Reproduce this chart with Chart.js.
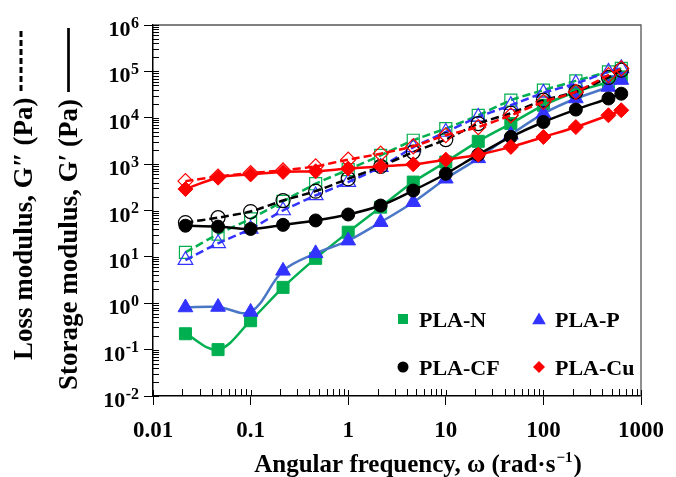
<!DOCTYPE html>
<html>
<head>
<meta charset="utf-8">
<script src="https://cdn.jsdelivr.net/npm/chart.js@4.4.1/dist/chart.umd.min.js"></script>
<style>
  html, body { margin: 0; padding: 0; background: #fff; }
  canvas { display: block; }
</style>
</head>
<body>
<canvas id="chart" width="676" height="477"></canvas>
<script>
// angular frequency sweep (rad/s)
const omega = [0.0215, 0.0464, 0.1, 0.215, 0.464, 1, 2.15, 4.64, 10, 21.5, 46.4, 100, 215, 464, 628];

// storage modulus G' (Pa), solid lines / filled markers
const plaN_storage  = [0.22, 0.1, 0.42, 2.2, 9.3, 34, 118, 410, 1110, 3100, 7500, 18600, 36000, 59000, 76000];
const plaP_storage  = [0.81, 0.83, 0.65, 5.0, 11.9, 22.4, 56, 151, 484, 1330, 4300, 12300, 26000, 46000, 65000];
const plaCF_storage = [47, 45, 40, 49, 61, 82, 128, 270, 620, 1600, 3850, 8100, 15000, 26000, 33000];
const plaCu_storage = [290, 510, 600, 680, 700, 800, 893, 990, 1250, 1600, 2350, 3850, 6300, 11300, 14500];

// loss modulus G'' (Pa), dashed lines / open markers
const plaN_loss  = [12.5, 31, 66, 158, 378, 760, 1550, 3270, 5840, 11300, 23900, 39400, 62500, 97700, 116000];
const plaP_loss  = [8.5, 19.6, 40, 100, 211, 409, 863, 2300, 4930, 10400, 18600, 34400, 54800, 97700, 116000];
const plaCF_loss = [55, 70, 95, 164, 261, 484, 893, 1820, 3380, 7500, 12500, 23900, 36100, 74000, 106000];
const plaCu_loss = [430, 540, 640, 733, 893, 1250, 1680, 2420, 4190, 6300, 11300, 22000, 36100, 83000, 116000];

const legendLabels = ['PLA-N', 'PLA-P', 'PLA-CF', 'PLA-Cu'];

const xMajorTicks = [0.01, 0.1, 1, 10, 100, 1000];
const xTickLabels = ['0.01', '0.1', '1', '10', '100', '1000'];
const yMajorTicks = [1e-2, 1e-1, 1, 10, 100, 1e3, 1e4, 1e5, 1e6];
const yTickExponents = ['-2', '-1', '0', '1', '2', '3', '4', '5', '6'];
const minorSteps = [2, 3, 4, 5, 6, 7, 8, 9];

const SERIF = "'Liberation Serif', 'Times New Roman', serif";
const GREEN = '#00b050';
const BLUE = '#3333ff';
const STEEL = '#4a76c6';
const RED = '#ff0000';
const BLACK = '#000000';

function pts(values) {
  return omega.map((x, i) => ({ x, y: values[i] }));
}

function storage(label, values, line, marker, style, radius, order) {
  return {
    label, data: pts(values), order,
    borderColor: line, borderWidth: 2.5, tension: 0.35,
    pointStyle: style, pointRadius: radius, pointHoverRadius: radius,
    pointBackgroundColor: marker, pointBorderColor: marker, pointBorderWidth: 1,
  };
}

function loss(label, values, color, style, radius, order) {
  return {
    label, data: pts(values), order,
    borderColor: color, borderWidth: 2.5, borderDash: [8, 4], tension: 0.2,
    pointStyle: style, pointRadius: radius, pointHoverRadius: radius,
    pointBackgroundColor: 'rgba(255,255,255,0)', pointBorderColor: color, pointBorderWidth: 1.2,
  };
}

const datasets = [
  storage('PLA-N G\'', plaN_storage, GREEN, GREEN, 'rect', 8.5, 8),
  loss('PLA-N G"', plaN_loss, GREEN, 'rect', 8.5, 7),
  storage('PLA-P G\'', plaP_storage, STEEL, BLUE, 'triangle', 8.5, 6),
  loss('PLA-P G"', plaP_loss, BLUE, 'triangle', 8.5, 5),
  storage('PLA-CF G\'', plaCF_storage, BLACK, BLACK, 'circle', 6.5, 4),
  loss('PLA-CF G"', plaCF_loss, BLACK, 'circle', 7, 3),
  storage('PLA-Cu G\'', plaCu_storage, RED, RED, 'rectRot', 7.5, 2),
  loss('PLA-Cu G"', plaCu_loss, RED, 'rectRot', 7.5, 1),
];

// legend markers: [style, colour]
const legendMarks = [['rect', GREEN], ['triangle', BLUE], ['circle', BLACK], ['rectRot', RED]];

function marker(ctx, style, cx, cy, r) {
  ctx.beginPath();
  if (style === 'rect') {
    ctx.rect(cx - r, cy - r, 2 * r, 2 * r);
  } else if (style === 'triangle') {
    ctx.moveTo(cx, cy - r);
    ctx.lineTo(cx + r * 1.05, cy + r * 0.8);
    ctx.lineTo(cx - r * 1.05, cy + r * 0.8);
    ctx.closePath();
  } else if (style === 'circle') {
    ctx.arc(cx, cy, r, 0, Math.PI * 2);
  } else {
    ctx.moveTo(cx, cy - r);
    ctx.lineTo(cx + r, cy);
    ctx.lineTo(cx, cy + r);
    ctx.lineTo(cx - r, cy);
    ctx.closePath();
  }
  ctx.fill();
}

const decor = {
  id: 'decor',
  beforeDatasetsDraw(chart) {
    const { ctx, chartArea: a, scales: { x, y } } = chart;
    ctx.save();
    // top and right frame
    ctx.strokeStyle = '#555';
    ctx.lineWidth = 1.3;
    ctx.beginPath();
    ctx.moveTo(a.left, a.top);
    ctx.lineTo(a.right, a.top);
    ctx.lineTo(a.right, a.bottom);
    ctx.stroke();
    // inner ticks
    ctx.strokeStyle = '#000';
    ctx.lineWidth = 1;
    ctx.beginPath();
    xMajorTicks.slice(0, -1).forEach((m) => minorSteps.forEach((k) => {
      const px = Math.round(x.getPixelForValue(k * m)) + 0.5;
      ctx.moveTo(px, a.bottom);
      ctx.lineTo(px, a.bottom - 7);
    }));
    xMajorTicks.forEach((m) => {
      const px = Math.round(x.getPixelForValue(m)) + 0.5;
      ctx.moveTo(px, a.bottom);
      ctx.lineTo(px, a.bottom - 6);
    });
    yMajorTicks.slice(0, -1).forEach((m) => minorSteps.forEach((k) => {
      const py = Math.round(y.getPixelForValue(k * m)) + 0.5;
      ctx.moveTo(a.left, py);
      ctx.lineTo(a.left + 6, py);
    }));
    yMajorTicks.forEach((m) => {
      const py = Math.round(y.getPixelForValue(m)) + 0.5;
      ctx.moveTo(a.left, py);
      ctx.lineTo(a.left + 6, py);
    });
    ctx.stroke();
    ctx.restore();
  },
  afterDraw(chart) {
    const { ctx, chartArea: a, scales: { y } } = chart;
    ctx.save();
    ctx.fillStyle = '#000';
    ctx.textBaseline = 'alphabetic';

    // y tick labels: 10 with raised exponent
    const baseFont = `bold 22px ${SERIF}`;
    const expFont = `bold 16px ${SERIF}`;
    yMajorTicks.forEach((v, i) => {
      const py = y.getPixelForValue(v);
      const right = a.left - 14;
      ctx.font = expFont;
      const ew = ctx.measureText(yTickExponents[i]).width;
      ctx.textAlign = 'right';
      ctx.fillText(yTickExponents[i], right, py + 2.5);
      ctx.font = baseFont;
      ctx.fillText('10', right - ew - 0.5, py + 11);
    });

    // x title with superscript
    const t1 = 'Angular frequency, \u03c9 (rad\u00b7s';
    const t2 = '\u22121';
    const t3 = ')';
    ctx.font = `bold 25px ${SERIF}`;
    const w1 = ctx.measureText(t1).width;
    const w3 = ctx.measureText(t3).width;
    ctx.font = `bold 15px ${SERIF}`;
    const w2 = ctx.measureText(t2).width;
    const tx = 417 - (w1 + w2 + w3) / 2;
    ctx.textAlign = 'left';
    ctx.font = `bold 25px ${SERIF}`;
    ctx.fillText(t1, tx, 472);
    ctx.font = `bold 15px ${SERIF}`;
    ctx.fillText(t2, tx + w1 + 1, 462);
    ctx.font = `bold 25px ${SERIF}`;
    ctx.fillText(t3, tx + w1 + w2 + 2, 472);

    // y titles, rotated
    ctx.font = `bold 27px ${SERIF}`;
    ctx.save();
    ctx.translate(32, 360);
    ctx.rotate(-Math.PI / 2);
    ctx.fillText('Loss modulus, G\u2033 (Pa)', 0, 0);
    ctx.restore();
    ctx.save();
    ctx.translate(77, 390);
    ctx.rotate(-Math.PI / 2);
    ctx.fillText('Storage modulus, G\u2032 (Pa)', 0, 0);
    ctx.restore();

    ctx.strokeStyle = '#000';
    ctx.lineWidth = 3;
    ctx.setLineDash([6, 3]);
    ctx.beginPath();
    ctx.moveTo(21, 91);
    ctx.lineTo(21, 30);
    ctx.stroke();
    ctx.setLineDash([]);
    ctx.lineWidth = 2.7;
    ctx.beginPath();
    ctx.moveTo(68.5, 92);
    ctx.lineTo(68.5, 28);
    ctx.stroke();

    // legend
    const cols = [403, 539];
    const rows = [319, 367];
    const sizes = { rect: 5, triangle: 6.5, circle: 5.5, rectRot: 6 };
    ctx.font = `bold 22px ${SERIF}`;
    ctx.textAlign = 'left';
    legendLabels.forEach((lab, i) => {
      const cx = cols[i % 2];
      const cy = rows[Math.floor(i / 2)];
      const [style, color] = legendMarks[i];
      ctx.fillStyle = color;
      marker(ctx, style, cx, cy, sizes[style]);
      ctx.fillStyle = '#000';
      ctx.fillText(lab, cx + 16, cy + 8);
    });
    ctx.restore();
  },
};

new Chart(document.getElementById('chart'), {
  type: 'line',
  data: { datasets },
  plugins: [decor],
  options: {
    responsive: false,
    devicePixelRatio: 1,
    animation: false,
    layout: { padding: { top: 25, right: 29, left: 0, bottom: 0 } },
    plugins: { legend: { display: false }, tooltip: { enabled: false } },
    scales: {
      x: {
        type: 'logarithmic',
        min: 0.01,
        max: 1000,
        afterBuildTicks: (axis) => { axis.ticks = xMajorTicks.map((v) => ({ value: v, major: true })); },
        afterFit: (axis) => { axis.height = 81; },
        ticks: {
          autoSkip: false,
          maxRotation: 0,
          padding: 12,
          color: '#000',
          font: { family: SERIF, size: 23, weight: 'bold' },
          callback: (v, i) => xTickLabels[i],
        },
        grid: { drawOnChartArea: false, drawTicks: true, tickLength: 9, color: '#000', lineWidth: 1 },
        border: { display: true, color: '#000', width: 1.5 },
      },
      y: {
        type: 'logarithmic',
        min: 1e-2,
        max: 1e6,
        afterBuildTicks: (axis) => { axis.ticks = yMajorTicks.map((v) => ({ value: v, major: true })); },
        afterFit: (axis) => { axis.width = 153; },
        ticks: { autoSkip: false, callback: () => '' },
        grid: { drawOnChartArea: false, drawTicks: true, tickLength: 9, color: '#000', lineWidth: 1 },
        border: { display: true, color: '#000', width: 1.5 },
      },
    },
  },
});
</script>
</body>
</html>
